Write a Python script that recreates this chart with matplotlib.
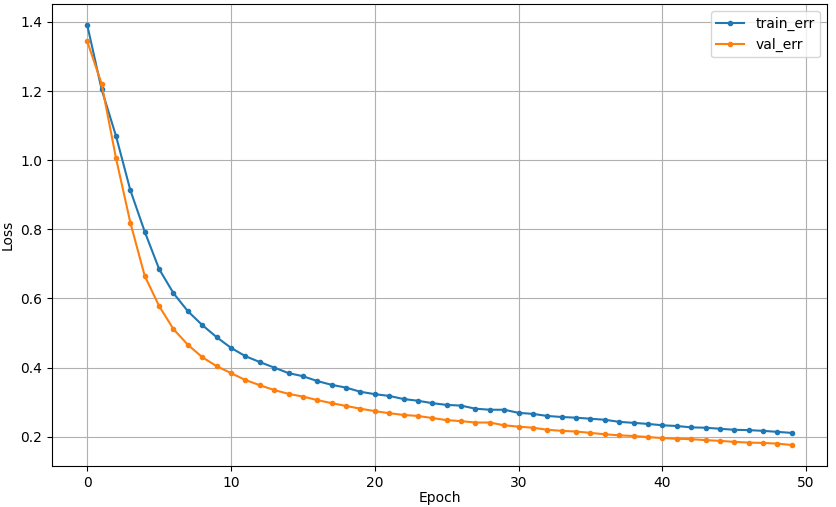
import matplotlib
matplotlib.use("Agg")
import matplotlib.pyplot as plt
import numpy as np

epochs = list(range(50))
train_err = [1.391, 1.205, 1.070, 0.913, 0.793, 0.685, 0.615, 0.563, 0.523, 0.488,
             0.457, 0.433, 0.416, 0.400, 0.384, 0.375, 0.361, 0.350, 0.342, 0.330,
             0.323, 0.318, 0.309, 0.304, 0.297, 0.292, 0.290, 0.281, 0.278, 0.278,
             0.269, 0.266, 0.260, 0.257, 0.255, 0.252, 0.249, 0.243, 0.240, 0.237,
             0.233, 0.231, 0.227, 0.226, 0.223, 0.220, 0.219, 0.217, 0.214, 0.211]
val_err = [1.344, 1.221, 1.006, 0.819, 0.665, 0.578, 0.511, 0.466, 0.430, 0.404,
           0.384, 0.364, 0.349, 0.335, 0.324, 0.316, 0.306, 0.297, 0.289, 0.281,
           0.274, 0.268, 0.263, 0.260, 0.254, 0.248, 0.245, 0.241, 0.241, 0.233,
           0.229, 0.226, 0.220, 0.217, 0.215, 0.211, 0.207, 0.204, 0.202, 0.199,
           0.196, 0.194, 0.193, 0.190, 0.188, 0.185, 0.183, 0.182, 0.180, 0.176]

W, H = 836, 507
fig = plt.figure(figsize=(W / 100, H / 100), dpi=100)
ax = fig.add_axes([52 / W, (H - 466) / H, 775 / W, 462 / H])
ax.plot(epochs, train_err, marker='.', label='train_err')
ax.plot(epochs, val_err, marker='.', label='val_err')
ax.set_xlabel('Epoch', labelpad=1)
ax.set_ylabel('Loss')
ax.grid(True)
ax.legend(loc='upper right')
fig.savefig('out.png', dpi=100)
